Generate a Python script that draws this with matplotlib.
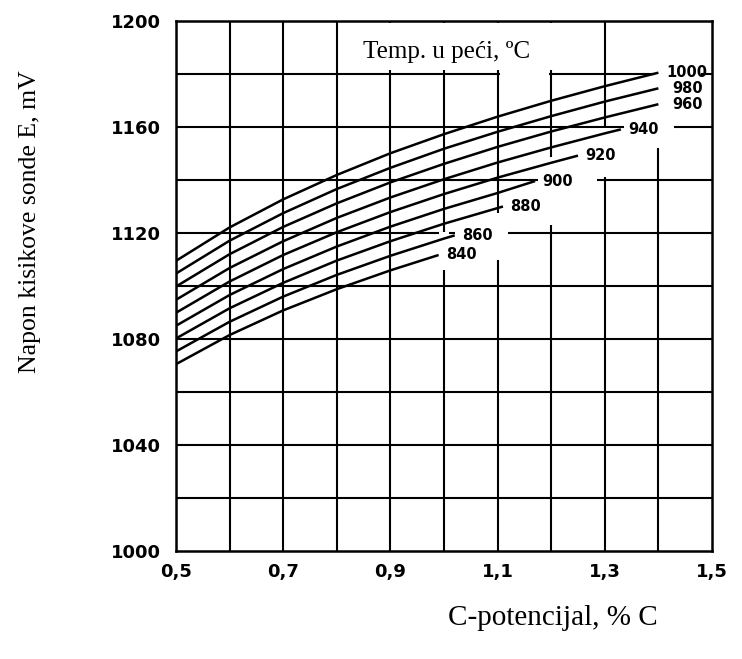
import matplotlib
matplotlib.use("Agg")
import matplotlib.pyplot as plt
from matplotlib.patches import Rectangle
import numpy as np

# ---------------- data ----------------
temps = [840, 860, 880, 900, 920, 940, 960, 980, 1000]

c_840 = [0.5, 0.6, 0.7, 0.8, 0.9, 0.99]
e_840 = [1070.5, 1081.5, 1090.8, 1098.8, 1105.9, 1111.7]
c_860 = [0.5, 0.6, 0.7, 0.8, 0.9, 1.0, 1.02]
e_860 = [1075.3, 1086.5, 1096.0, 1104.2, 1111.4, 1117.9, 1119.1]
c_880 = [0.5, 0.6, 0.7, 0.8, 0.9, 1.0, 1.11]
e_880 = [1080.2, 1091.6, 1101.2, 1109.6, 1116.9, 1123.5, 1130.0]
c_900 = [0.5, 0.6, 0.7, 0.8, 0.9, 1.0, 1.1, 1.17]
e_900 = [1085.0, 1096.6, 1106.4, 1114.9, 1122.4, 1129.1, 1135.1, 1139.6]
c_920 = [0.5, 0.6, 0.7, 0.8, 0.9, 1.0, 1.1, 1.2, 1.25]
e_920 = [1089.9, 1101.7, 1111.7, 1120.3, 1127.9, 1134.7, 1140.9, 1146.5, 1149.2]
c_940 = [0.5, 0.6, 0.7, 0.8, 0.9, 1.0, 1.1, 1.2, 1.3, 1.33]
e_940 = [1094.8, 1106.8, 1116.9, 1125.7, 1133.4, 1140.3, 1146.6, 1152.3, 1157.6, 1159.1]
c_960 = [0.5, 0.6, 0.7, 0.8, 0.9, 1.0, 1.1, 1.2, 1.3, 1.4]
e_960 = [1099.8, 1112.0, 1122.3, 1131.2, 1139.1, 1146.1, 1152.5, 1158.3, 1163.6, 1168.6]
c_980 = [0.5, 0.6, 0.7, 0.8, 0.9, 1.0, 1.1, 1.2, 1.3, 1.4]
e_980 = [1104.7, 1117.1, 1127.5, 1136.6, 1144.6, 1151.8, 1158.2, 1164.1, 1169.6, 1174.6]
c_1000 = [0.5, 0.6, 0.7, 0.8, 0.9, 1.0, 1.1, 1.2, 1.3, 1.4]
e_1000 = [1109.5, 1122.1, 1132.7, 1141.9, 1150.1, 1157.3, 1163.9, 1169.9, 1175.4, 1180.5]

x_ticks = [0.5, 0.7, 0.9, 1.1, 1.3, 1.5]
x_tick_labels = ["0,5", "0,7", "0,9", "1,1", "1,3", "1,5"]
y_ticks = [1000, 1040, 1080, 1120, 1160, 1200]

curves = {
    840: (c_840, e_840), 860: (c_860, e_860), 880: (c_880, e_880),
    900: (c_900, e_900), 920: (c_920, e_920), 940: (c_940, e_940),
    960: (c_960, e_960), 980: (c_980, e_980), 1000: (c_1000, e_1000),
}

# ---------------- figure ----------------
W, H = 742, 659
fig = plt.figure(figsize=(W / 100, H / 100), dpi=100)
fig.patch.set_facecolor("white")
ax = fig.add_axes([176 / W, 1 - 551 / H, (712 - 176) / W, (551 - 21) / H])

ax.set_xlim(0.5, 1.5)
ax.set_ylim(1000, 1200)

# grid
for xv in np.arange(0.6, 1.45, 0.1):
    ax.axvline(xv, color="black", lw=1.5, zorder=1)
for yv in np.arange(1020, 1195, 20):
    ax.axhline(yv, color="black", lw=1.5, zorder=1)

# white gaps in the grid (label areas), as in the reference
masks = [
    (0.805, 1181.5, 0.40, 17.8),   # title box
    (1.105, 1177.5, 0.09, 5.0),    # 1180 line gap
    (1.393, 1152.0, 0.014, 47.8),  # vertical 1.4 upper
    (1.29, 1141.0, 0.02, 18.5),    # vertical 1.3
    (1.19, 1123.0, 0.02, 25.5),    # vertical 1.2
    (1.09, 1110.0, 0.02, 17.5),    # vertical 1.1
    (0.99, 1106.0, 0.02, 14.5),    # vertical 1.0
    (1.335, 1157.0, 0.095, 5.0),   # 1160 gap
    (1.175, 1137.0, 0.11, 5.0),    # 1140 gap
    (1.02, 1117.0, 0.10, 5.0),     # 1120 gap
    (1.40, 1165.0, 0.08, 20.0),    # label column 960-1000
]
for (mx, my, mw, mh) in masks:
    ax.add_patch(Rectangle((mx, my), mw, mh, facecolor="white",
                           edgecolor="none", zorder=2))

# curves
label_font = dict(fontsize=10.5, fontweight="bold", family="DejaVu Sans")
for t in temps:
    cx, ey = curves[t]
    ax.plot(cx, ey, color="black", lw=1.8, zorder=3, solid_capstyle="butt")
    off = 0.025 if t in (960, 980) else 0.014
    ax.text(cx[-1] + off, ey[-1], str(t), ha="left", va="center",
            zorder=4, **label_font)

ax.text(1.004, 1188.3, "Temp. u peći, ºC", ha="center", va="center",
        fontsize=18, family="Liberation Serif", zorder=4)

# axes styling
for s in ax.spines.values():
    s.set_linewidth(1.8)
    s.set_color("black")
    s.set_zorder(5)

ax.set_xticks(x_ticks)
ax.set_xticklabels(x_tick_labels)
ax.set_yticks(y_ticks)
ax.tick_params(length=0)
for lab in ax.get_xticklabels() + ax.get_yticklabels():
    lab.set_fontweight("bold")
    lab.set_fontsize(13)
    lab.set_family("DejaVu Sans")
ax.tick_params(axis="x", pad=9)
ax.tick_params(axis="y", pad=11)

fig.text(30 / W, 1 - 222 / H, "Napon kisikove sonde E, mV", rotation=90,
         ha="center", va="center", fontsize=18.5, family="Liberation Serif")
fig.text(553 / W, 1 - 618 / H, "C-potencijal, % C", ha="center", va="center",
         fontsize=21, family="Liberation Serif")

fig.savefig("out.png", dpi=100, facecolor="white")
